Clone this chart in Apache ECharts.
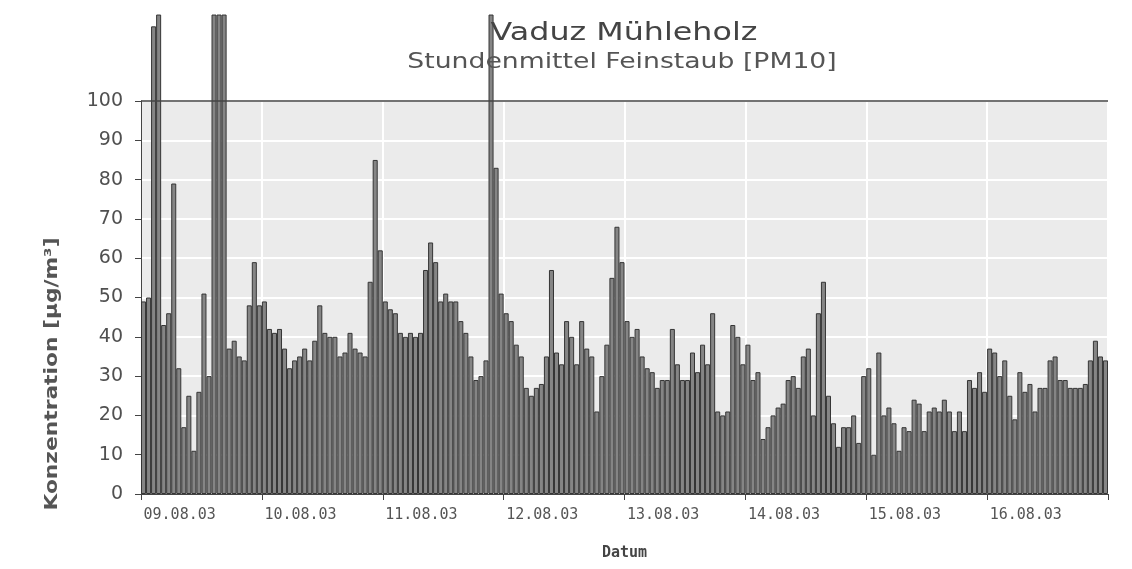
<!DOCTYPE html>
<html>
<head>
<meta charset="utf-8">
<script src="https://cdn.jsdelivr.net/npm/echarts@6/dist/echarts.min.js"></script>
<style>
html,body{margin:0;padding:0;background:#fff}
#chart{width:1132px;height:569px}
</style>
</head>
<body>
<div id="chart"></div>
<script>
// Stundenmittel PM10, Vaduz Mühleholz, 24 Werte pro Tag
let days = ['09.08.03', '10.08.03', '11.08.03', '12.08.03', '13.08.03', '14.08.03', '15.08.03', '16.08.03'];
let d0908 = [49, 50, 119, 122, 43, 46, 79, 32, 17, 25, 11, 26, 51, 30, 122, 122, 122, 37, 39, 35, 34, 48, 59, 48];
let d1008 = [49, 42, 41, 42, 37, 32, 34, 35, 37, 34, 39, 48, 41, 40, 40, 35, 36, 41, 37, 36, 35, 54, 85, 62];
let d1108 = [49, 47, 46, 41, 40, 41, 40, 41, 57, 64, 59, 49, 51, 49, 49, 44, 41, 35, 29, 30, 34, 122, 83, 51];
let d1208 = [46, 44, 38, 35, 27, 25, 27, 28, 35, 57, 36, 33, 44, 40, 33, 44, 37, 35, 21, 30, 38, 55, 68, 59];
let d1308 = [44, 40, 42, 35, 32, 31, 27, 29, 29, 42, 33, 29, 29, 36, 31, 38, 33, 46, 21, 20, 21, 43, 40, 33];
let d1408 = [38, 29, 31, 14, 17, 20, 22, 23, 29, 30, 27, 35, 37, 20, 46, 54, 25, 18, 12, 17, 17, 20, 13, 30];
let d1508 = [32, 10, 36, 20, 22, 18, 11, 17, 16, 24, 23, 16, 21, 22, 21, 24, 21, 16, 21, 16, 29, 27, 31, 26];
let d1608 = [37, 36, 30, 34, 25, 19, 31, 26, 28, 21, 27, 27, 34, 35, 29, 29, 27, 27, 27, 28, 34, 39, 35, 34];
let yMin = 0, yMax = 100, yStep = 10;

let perDay = [d0908, d1008, d1108, d1208, d1308, d1408, d1508, d1608];
let categories = [];
let values = [];
days.forEach(function (day, i) {
    perDay[i].forEach(function (v, h) {
        categories.push(day + ' ' + (h < 10 ? '0' : '') + h + ':00');
        values.push(v);
    });
});

function dayStart(index) {
    return index % 24 === 0;
}

let chart = echarts.init(document.getElementById('chart'));
let option = {
    animation: false,
    backgroundColor: '#fff',
    grid: {
        left: 141,
        right: 24,
        top: 101,
        bottom: 75,
        show: true,
        backgroundColor: '#ebebeb',
        borderColor: '#777',
        borderWidth: 1
    },
    graphic: [
        {
            type: 'text', x: 624, y: 33, scaleX: 1.27, z: 100,
            style: {text: 'Vaduz Mühleholz', fontFamily: 'DejaVu Sans', fontSize: 25,
                fill: '#444', align: 'center', verticalAlign: 'middle'}
        },
        {
            type: 'text', x: 622, y: 63, scaleX: 1.27, z: 100,
            style: {text: 'Stundenmittel Feinstaub [PM10]', fontFamily: 'DejaVu Sans', fontSize: 21,
                fill: '#555', align: 'center', verticalAlign: 'middle'}
        },
        {
            type: 'text', x: 53, y: 374, rotation: Math.PI / 2, scaleX: 1.28,
            style: {text: 'Konzentration [µg/m³]', fontFamily: 'DejaVu Sans', fontWeight: 'bold', fontSize: 17,
                fill: '#555', align: 'center', verticalAlign: 'middle'}
        }
    ],
    xAxis: {
        type: 'category',
        data: categories,
        boundaryGap: true,
        name: 'Datum',
        nameLocation: 'middle',
        nameGap: 52,
        nameTextStyle: {fontFamily: 'DejaVu Sans Mono', fontWeight: 'bold', fontSize: 15, color: '#444'},
        axisLine: {show: true, lineStyle: {color: '#444', width: 1}},
        axisTick: {show: true, interval: dayStart, length: 6, lineStyle: {color: '#444'}},
        axisLabel: {
            interval: dayStart,
            align: 'left',
            margin: 14,
            fontFamily: 'DejaVu Sans Mono',
            fontSize: 15,
            color: '#555',
            formatter: function (value) {
                return value.slice(0, 8);
            }
        },
        splitLine: {show: true, interval: dayStart, lineStyle: {color: '#fff', width: 2}}
    },
    yAxis: {
        type: 'value',
        min: yMin,
        max: yMax,
        interval: yStep,
        axisLine: {show: true, lineStyle: {color: '#444', width: 1}},
        axisTick: {show: true, length: 6, lineStyle: {color: '#444'}},
        axisLabel: {fontFamily: 'DejaVu Sans', fontSize: 19, color: '#505050', margin: 18},
        splitLine: {show: true, lineStyle: {color: '#fff', width: 2}}
    },
    series: [{
        type: 'bar',
        data: values,
        clip: false,
        barCategoryGap: '0%',
        itemStyle: {color: '#858585', borderColor: '#353535', borderWidth: 1},
        markLine: {
            silent: true,
            symbol: ['none', 'none'],
            label: {show: false},
            lineStyle: {color: '#444', type: 'solid', width: 1.5},
            data: [{yAxis: 100}]
        }
    }]
};
chart.setOption(option);
</script>
</body>
</html>
